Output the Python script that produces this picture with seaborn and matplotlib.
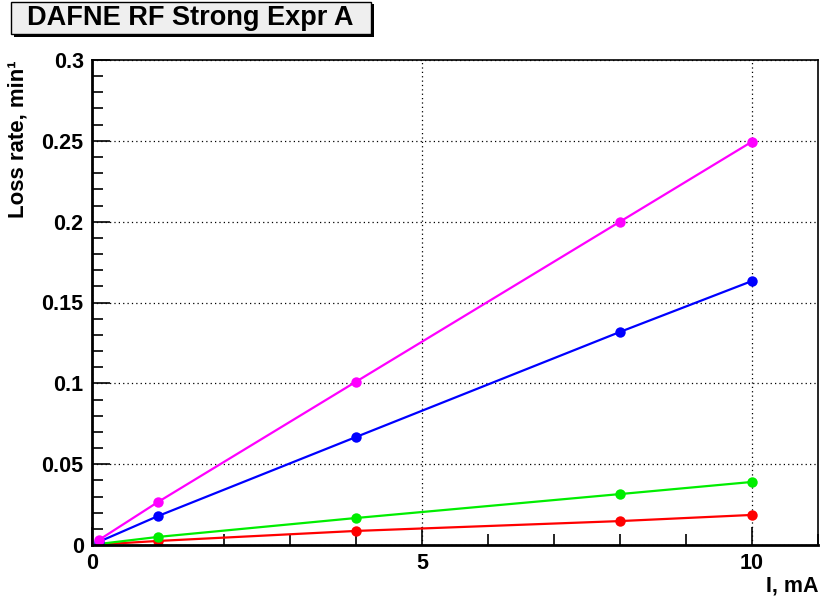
import numpy as np
import pandas as pd
import matplotlib
matplotlib.use("Agg")
import matplotlib.pyplot as plt
from matplotlib.patches import Rectangle
from matplotlib.ticker import MultipleLocator
import seaborn as sns

current_mA = [0.1, 1, 4, 8, 10]
loss_red = [0.0003, 0.0025, 0.0087, 0.0148, 0.0186]
loss_green = [0.0006, 0.0050, 0.0167, 0.0315, 0.0390]
loss_blue = [0.0019, 0.0179, 0.0668, 0.1318, 0.1633]
loss_magenta = [0.0030, 0.0266, 0.1010, 0.2000, 0.2495]
series_names = ["red", "green", "blue", "magenta"]
series_colors = ["#ff0000", "#00ee00", "#0000ff", "#ff00ff"]
x_ticks = [0, 5, 10]
x_tick_labels = ["0", "5", "10"]
y_ticks = [0, 0.05, 0.1, 0.15, 0.2, 0.25, 0.3]
y_tick_labels = ["0", "0.05", "0.1", "0.15", "0.2", "0.25", "0.3"]

rows = []
for name, vals in zip(series_names, [loss_red, loss_green, loss_blue, loss_magenta]):
    for x, y in zip(current_mA, vals):
        rows.append({"I": x, "loss": y, "series": name})
df = pd.DataFrame(rows)

sns.set_theme(style="white")
plt.rcParams['font.family'] = ['Liberation Sans', 'DejaVu Sans']
plt.rcParams['font.weight'] = 'bold'
plt.rcParams['text.color'] = 'black'
plt.rcParams['axes.labelcolor'] = 'black'
plt.rcParams['xtick.color'] = 'black'
plt.rcParams['ytick.color'] = 'black'

fig = plt.figure(figsize=(8.22, 5.98), dpi=100)
W, H = 822, 598
ax = fig.add_axes([92 / W, 1 - 545 / H, (818 - 92) / W, (545 - 60) / H])

sns.lineplot(data=df, x="I", y="loss", hue="series", hue_order=series_names,
             palette=dict(zip(series_names, series_colors)), marker="o",
             markersize=7.5, markeredgewidth=0, linewidth=1.6, legend=False, ax=ax)

ax.set_xlim(0, 11)
ax.set_ylim(0, 0.3)
ax.xaxis.set_minor_locator(MultipleLocator(1))
ax.yaxis.set_minor_locator(MultipleLocator(0.01))
ax.set_yticks(y_ticks)
ax.set_yticklabels(y_tick_labels)
ax.set_xticks(x_ticks)
ax.set_xticklabels(x_tick_labels)
ax.tick_params(axis="both", which="major", direction="in", length=13, width=1.2,
               labelsize=15.5, colors="black", pad=6, left=True, bottom=True)
ax.tick_params(axis="both", which="minor", direction="in", length=8, width=1.2,
               left=True, bottom=True)
for lab in ax.get_xticklabels() + ax.get_yticklabels():
    lab.set_fontweight("bold")

ax.grid(True, which="major", linestyle=(0, (1, 2.5)), color="black", linewidth=0.9)
for s in ["left", "bottom"]:
    ax.spines[s].set_linewidth(2.0)
    ax.spines[s].set_color("black")
for s in ["top", "right"]:
    ax.spines[s].set_linewidth(1.2)
    ax.spines[s].set_color("black")

ax.set_xlabel("I, mA", fontsize=15.5, fontweight="bold", loc="right")
ax.xaxis.set_label_coords(1.0, -0.062)
ax.set_ylabel("Loss rate, min\u00b9", fontsize=16, fontweight="bold", loc="top")
ax.yaxis.set_label_coords(-0.087, 1.0)

# title box with shadow
fig.patches.append(Rectangle((14 / W, 1 - 37 / H), 360 / W, 33 / H,
                             transform=fig.transFigure, facecolor="black",
                             edgecolor="none", zorder=1))
fig.patches.append(Rectangle((11 / W, 1 - 34 / H), 360 / W, 32 / H,
                             transform=fig.transFigure, facecolor="#efefef",
                             edgecolor="black", linewidth=1.0, zorder=2))
fig.text(190 / W, 1 - 18 / H, "DAFNE RF Strong Expr A", fontsize=19.5,
         fontweight="bold", ha="center", va="center", zorder=3)

fig.savefig("out.png", dpi=100)
